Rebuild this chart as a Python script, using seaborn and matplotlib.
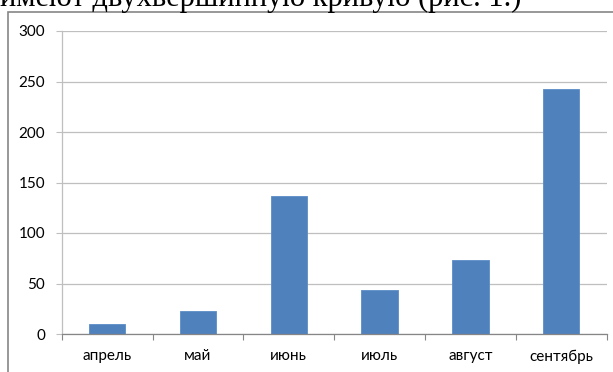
import matplotlib
matplotlib.use("Agg")
import matplotlib.pyplot as plt
import matplotlib.patches as mpatches
import seaborn as sns
import pandas as pd

months = ["апрель", "май", "июнь", "июль", "август", "сентябрь"]
values = [10, 23, 137, 44, 73, 243]
y_ticks = [0, 50, 100, 150, 200, 250, 300]
caption = "имеют двухвершинную кривую (рис. 1.)"

sns.set_theme(style="white")
plt.rcParams["font.family"] = ["Lato", "DejaVu Sans"]

W, H = 613, 372
fig = plt.figure(figsize=(W / 100, H / 100), dpi=100)
ax = fig.add_axes([61.7 / W, (H - 334) / H, (606.7 - 61.7) / W, (334 - 31) / H])

df = pd.DataFrame({"month": months, "value": values})
sns.barplot(data=df, x="month", y="value", color="#4F81BD", saturation=1,
            width=0.4, ax=ax, edgecolor="#5B8CC6", linewidth=0.6)

ax.set_ylim(0, 300)
ax.set_xlim(-0.5, len(months) - 0.5)
ax.set_yticks(y_ticks)
ax.set_yticklabels([str(v) for v in y_ticks])
ax.yaxis.grid(True, color="#BFBFBF", linewidth=0.9)
ax.set_axisbelow(True)
ax.set_xlabel("")
ax.set_ylabel("")

for s in ["top", "right"]:
    ax.spines[s].set_visible(False)
ax.spines["left"].set_color("#BFBFBF")
ax.spines["left"].set_linewidth(0.9)
ax.spines["bottom"].set_color("#868686")
ax.spines["bottom"].set_linewidth(0.9)

ax.tick_params(axis="y", which="major", length=4.3, width=0.8, color="#BFBFBF",
               pad=7.5, labelsize=11, labelcolor="#000000", left=True)
ax.tick_params(axis="x", which="major", length=0, pad=11, labelsize=11,
               labelcolor="#000000")
ax.set_xticks([i - 0.5 for i in range(len(months) + 1)], minor=True)
ax.tick_params(axis="x", which="minor", length=4, width=0.8, color="#868686",
               bottom=True, direction="out")

# outer chart border
border = mpatches.Rectangle((8 / W, -0.05), 1.2, 1 - 12 / H + 0.05,
                            transform=fig.transFigure, fill=False,
                            edgecolor="#868686", linewidth=1.2, clip_on=False)
fig.patches.append(border)

fig.text(0.0, 1 - 6 / H, caption, family=["Liberation Serif", "DejaVu Serif"],
         fontsize=22, va="baseline", ha="left", color="#000000")

fig.savefig("out.png", dpi=100, facecolor="white")
